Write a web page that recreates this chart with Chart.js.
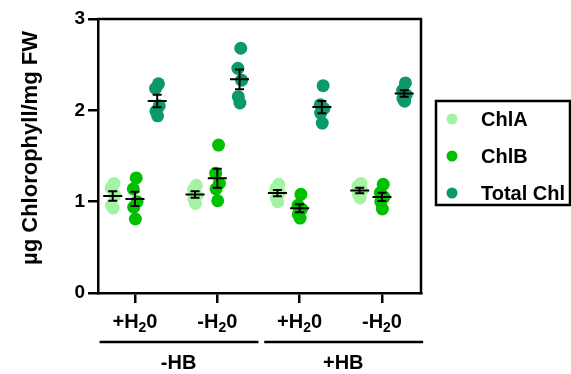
<!DOCTYPE html>
<html>
<head>
<meta charset="utf-8">
<script src="https://cdn.jsdelivr.net/npm/chart.js@4.4.1/dist/chart.umd.min.js"></script>
<style>
  html, body { margin: 0; padding: 0; background: #fff; }
  #wrap { width: 571px; height: 374px; }
</style>
</head>
<body>
<div id="wrap"><canvas id="chart" width="571" height="374"></canvas></div>
<script>
// Treatment conditions along the x axis (₂ is drawn as a subscript)
const categories = ['+H₂0', '-H₂0', '+H₂0', '-H₂0'];
// Outer grouping: label and the categories it spans (1-based)
const groupLabels = ['-HB', '+HB'];
const groupSpans = [[1, 2], [3, 4]];

// Replicate measurements (µg chlorophyll / mg FW), one inner list per condition
const chlA = [
  [1.20, 1.15, 1.07, 0.96, 0.93],
  [1.18, 1.13, 1.07, 1.03, 0.98],
  [1.19, 1.14, 1.10, 1.04, 1.00],
  [1.20, 1.17, 1.12, 1.08, 1.04]
];
const chlB = [
  [1.26, 1.14, 1.00, 0.94, 0.81],
  [1.62, 1.31, 1.20, 1.14, 1.01],
  [1.08, 0.96, 0.92, 0.86, 0.82],
  [1.19, 1.10, 1.05, 1.00, 0.92]
];
const totalChl = [
  [2.29, 2.24, 2.05, 1.99, 1.94],
  [2.68, 2.46, 2.33, 2.15, 2.08],
  [2.27, 2.06, 2.02, 1.97, 1.86],
  [2.30, 2.22, 2.17, 2.13, 2.10]
];
const seriesNames = ['ChlA', 'ChlB', 'Total Chl'];
const yTicks = [0, 1, 2, 3];
const yTitle = 'µg Chlorophyll/mg FW';

// Styling
const seriesColors = ['#a4f3a4', '#00c000', '#0b9a66'];
const seriesShift = [-0.27, 0, 0.27];          // position of each series inside a condition
const jitter = [0.015, -0.02, 0.025, -0.015, 0.005];
const FONT = '"Liberation Sans", Arial, Helvetica, sans-serif';

const seriesValues = [chlA, chlB, totalChl];

function toPoints(values, s) {
  const pts = [];
  values.forEach((reps, i) => {
    reps.forEach((v, k) => pts.push({ x: i + 1 + seriesShift[s] + jitter[k % jitter.length], y: v }));
  });
  return pts;
}

function meanSem(arr) {
  const n = arr.length;
  const m = arr.reduce((a, b) => a + b, 0) / n;
  const sd = Math.sqrt(arr.reduce((a, b) => a + (b - m) * (b - m), 0) / (n - 1));
  return { m, sem: sd / Math.sqrt(n) };
}

// Mean line with SEM whiskers for each series/condition
const errorBars = {
  id: 'errorBars',
  afterDatasetsDraw(chart) {
    const { ctx, scales: { x, y } } = chart;
    ctx.save();
    ctx.strokeStyle = '#000';
    ctx.lineWidth = 2;
    seriesValues.forEach((values, s) => {
      values.forEach((reps, i) => {
        const { m, sem } = meanSem(reps);
        const px = x.getPixelForValue(i + 1 + seriesShift[s]);
        const pm = y.getPixelForValue(m);
        const pt = y.getPixelForValue(m + sem);
        const pb = y.getPixelForValue(m - sem);
        ctx.beginPath();
        ctx.moveTo(px - 9.5, pm); ctx.lineTo(px + 9.5, pm);
        ctx.moveTo(px, pt); ctx.lineTo(px, pb);
        ctx.moveTo(px - 4.5, pt); ctx.lineTo(px + 4.5, pt);
        ctx.moveTo(px - 4.5, pb); ctx.lineTo(px + 4.5, pb);
        ctx.stroke();
      });
    });
    ctx.restore();
  }
};

// Frame, axis title, subscripted condition labels, group brackets and legend box
const decorations = {
  id: 'decorations',
  afterDraw(chart) {
    const { ctx, chartArea: a, scales: { x } } = chart;
    ctx.save();
    ctx.strokeStyle = '#000';
    ctx.fillStyle = '#000';
    ctx.lineWidth = 2.5;
    ctx.lineCap = 'butt';
    // top and right sides of the plot frame
    ctx.beginPath();
    ctx.moveTo(a.left - 1, a.top);
    ctx.lineTo(a.right, a.top);
    ctx.lineTo(a.right, a.bottom + 1.25);
    ctx.stroke();

    // y axis title
    ctx.save();
    ctx.translate(31, 148);
    ctx.rotate(-Math.PI / 2);
    ctx.font = 'bold 22px ' + FONT;
    ctx.textAlign = 'center';
    ctx.textBaseline = 'middle';
    ctx.fillText(yTitle, 0, 0);
    ctx.restore();

    // condition labels with subscript 2
    ctx.textBaseline = 'alphabetic';
    const big = 'bold 20px ' + FONT;
    const small = 'bold 14px ' + FONT;
    const baseY = 328;
    categories.forEach((lab, i) => {
      const parts = lab.split('₂');
      ctx.font = big;
      const w0 = ctx.measureText(parts[0]).width;
      const w2 = ctx.measureText(parts[1]).width;
      ctx.font = small;
      const w1 = ctx.measureText('2').width;
      const cx = x.getPixelForValue(i + 1);
      const left = cx - (w0 + w1 + w2) / 2;
      ctx.textAlign = 'left';
      ctx.font = big;
      ctx.fillText(parts[0], left, baseY);
      ctx.font = small;
      ctx.fillText('2', left + w0, baseY + 4);
      ctx.font = big;
      ctx.fillText(parts[1], left + w0 + w1, baseY);
    });

    // group brackets and labels
    groupSpans.forEach((span, g) => {
      const x0 = x.getPixelForValue(span[0] - 0.43);
      const x1 = x.getPixelForValue(span[1] + 0.5);
      ctx.beginPath();
      ctx.moveTo(x0, 342);
      ctx.lineTo(x1, 342);
      ctx.stroke();
      ctx.font = big;
      ctx.textAlign = 'center';
      ctx.textBaseline = 'middle';
      const cx = x.getPixelForValue((span[0] + span[1]) / 2 + 0.03);
      ctx.fillText(groupLabels[g], cx, 363);
    });

    // legend
    ctx.lineWidth = 2.5;
    ctx.strokeRect(436, 101, 134, 104);
    const rows = [119, 156, 193];
    seriesNames.forEach((name, s) => {
      ctx.fillStyle = seriesColors[s];
      ctx.beginPath();
      ctx.arc(452, rows[s], 5.5, 0, Math.PI * 2);
      ctx.fill();
      ctx.fillStyle = '#000';
      ctx.font = big;
      ctx.textAlign = 'left';
      ctx.textBaseline = 'middle';
      ctx.fillText(name, 481, rows[s] + 1);
    });
    ctx.restore();
  }
};

new Chart(document.getElementById('chart'), {
  type: 'scatter',
  data: {
    datasets: seriesValues.map((vals, s) => ({
      label: seriesNames[s],
      data: toPoints(vals, s),
      backgroundColor: seriesColors[s],
      borderWidth: 0,
      pointRadius: 6.5,
      pointHoverRadius: 6.5
    }))
  },
  options: {
    responsive: false,
    animation: false,
    events: [],
    layout: { padding: { left: 0, top: 19, right: 150, bottom: 0 } },
    plugins: { legend: { display: false }, tooltip: { enabled: false } },
    scales: {
      x: {
        type: 'linear',
        min: 0.551,
        max: 4.474,
        afterBuildTicks: (scale) => { scale.ticks = categories.map((_, i) => ({ value: i + 1 })); },
        afterFit: (scale) => { scale.height = 81; },
        ticks: { callback: () => '', font: { size: 1 } },
        grid: { drawOnChartArea: false, drawTicks: true, tickLength: 10, color: '#000', lineWidth: 2.5 },
        border: { display: true, color: '#000', width: 2.5 }
      },
      y: {
        min: 0,
        max: 3,
        afterBuildTicks: (scale) => { scale.ticks = yTicks.map(v => ({ value: v })); },
        afterFit: (scale) => { scale.width = 98; },
        ticks: { color: '#000', padding: 3, font: { family: FONT, size: 19, weight: 'bold' } },
        grid: { drawOnChartArea: false, drawTicks: true, tickLength: 10, color: '#000', lineWidth: 2.5 },
        border: { display: true, color: '#000', width: 2.5 }
      }
    }
  },
  plugins: [errorBars, decorations]
});
</script>
</body>
</html>
